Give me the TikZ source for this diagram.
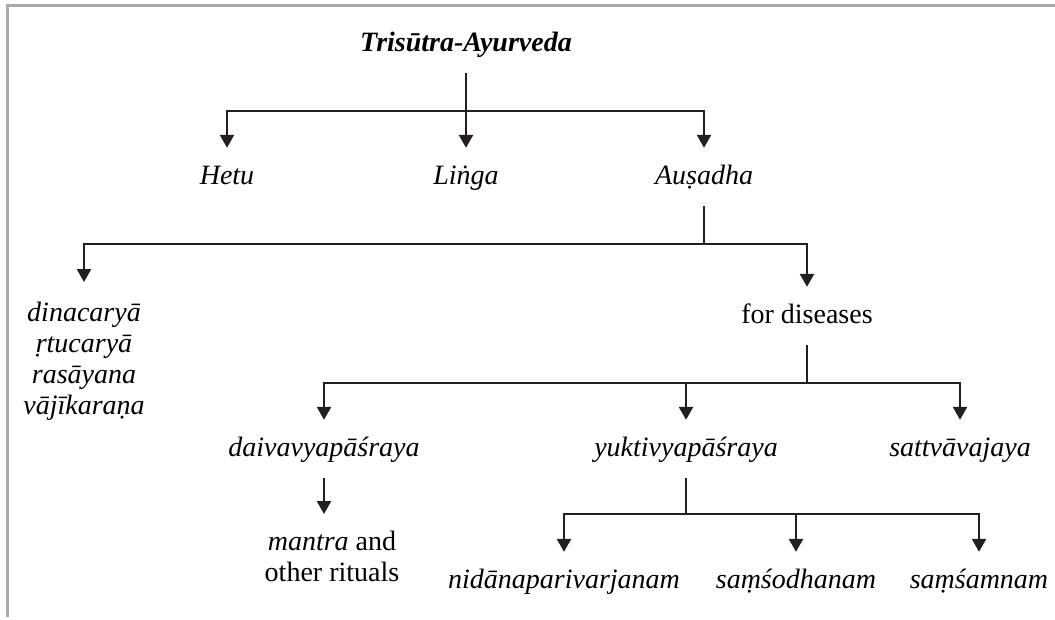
\documentclass[tikz,border=0pt]{standalone}
\usepackage{fontspec}
\setmainfont{Liberation Serif}
\usepackage{tikz}
\usepackage{xcolor}
\usetikzlibrary{arrows.meta}
\definecolor{frame-gray}{RGB}{170,170,170}
\definecolor{ink}{RGB}{35,31,32}
\tikzset{
    tree-node/.style = {anchor=base, inner xsep=2pt, inner ysep=16pt, text height=20pt, text depth=6pt, font=\fontsize{28}{31}\selectfont},
    tree-term/.style = {tree-node, font=\fontsize{28}{31}\selectfont\itshape},
    tree-list/.style = {anchor=north, align=center, inner xsep=2pt, inner ysep=18pt, font=\fontsize{28}{31}\selectfont},
    tree-line/.style = {draw=ink, line width=2.5pt},
    tree-arrow/.style = {tree-line, -{Triangle[length=13pt,width=14pt]}},
    frame-line/.style = {draw=frame-gray, line width=3pt},
}

\begin{document}
\begin{tikzpicture}[x=1pt, y=-1pt]
\useasboundingbox (0,0) rectangle (1055,619);
\draw[frame-line] (1055,5.3) -- (7.7,5.3) -- (7.7,617);

\node[tree-node, font=\fontsize{28}{31}\selectfont\bfseries\itshape] (title) at (466,51) {Trisūtra-Ayurveda};
\node[tree-term] (hetu) at (227,184) {Hetu};
\node[tree-term] (linga) at (466,184) {Liṅga};
\node[tree-term] (ausadha) at (704,184) {Auṣadha};
\node[tree-list, font=\fontsize{28}{31}\selectfont\itshape, inner ysep=19.5pt] (daily) at (84,282) {dinacaryā\\ṛtucaryā\\rasāyana\\vājīkaraṇa};
\node[tree-node] (diseases) at (807,323) {for diseases};
\node[tree-term] (daiva) at (324,456) {daivavyapāśraya};
\node[tree-term] (yukti) at (686,456) {yuktivyapāśraya};
\node[tree-term] (sattva) at (960,456) {sattvāvajaya};
\node[tree-list, inner ysep=16.5pt] (mantra) at (332,514) {\textit{mantra} and\\other rituals};
\node[tree-term] (nidana) at (564,588) {nidānaparivarjanam};
\node[tree-term] (samsodhana) at (796,588) {saṃśodhanam};
\node[tree-term] (samsamana) at (979,588) {saṃśamnam};

\coordinate (fork-a) at (0,111);
\coordinate (fork-b) at (0,244);
\coordinate (fork-c) at (0,383);
\coordinate (fork-d) at (0,514);

\draw[tree-arrow] (title.south) -- (linga.north);
\draw[tree-arrow] (title.south |- fork-a) -| (hetu.north);
\draw[tree-arrow] (title.south |- fork-a) -| (ausadha.north);

\draw[tree-line] (ausadha.south) -- (ausadha.south |- fork-b);
\draw[tree-arrow] (ausadha.south |- fork-b) -| (daily.north);
\draw[tree-arrow] (ausadha.south |- fork-b) -| (diseases.north);

\draw[tree-line] (diseases.south) -- (diseases.south |- fork-c);
\draw[tree-arrow] (diseases.south |- fork-c) -| (daiva.north);
\draw[tree-arrow] (diseases.south |- fork-c) -| (yukti.north);
\draw[tree-arrow] (diseases.south |- fork-c) -| (sattva.north);

\draw[tree-arrow] (daiva.south) -- (daiva.south |- mantra.north);

\draw[tree-line] (yukti.south) -- (yukti.south |- fork-d);
\draw[tree-arrow] (yukti.south |- fork-d) -| (nidana.north);
\draw[tree-arrow] (yukti.south |- fork-d) -| (samsodhana.north);
\draw[tree-arrow] (yukti.south |- fork-d) -| (samsamana.north);
\end{tikzpicture}
\end{document}
